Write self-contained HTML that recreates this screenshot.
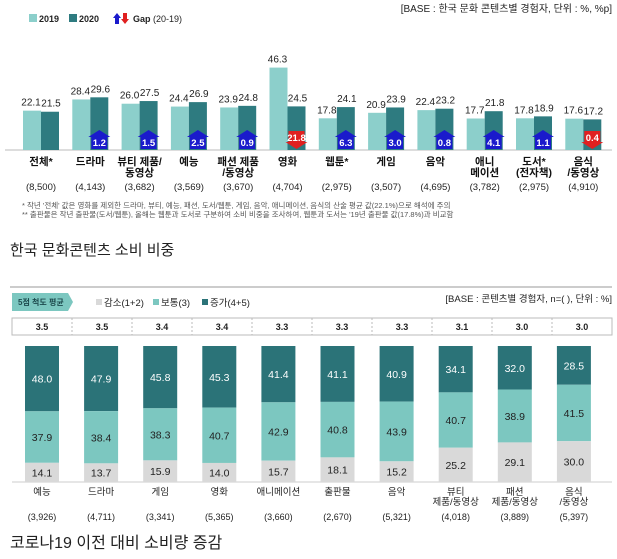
<!DOCTYPE html>
<html><head><meta charset="utf-8"><style>
html,body{margin:0;padding:0;background:#fff;}
svg{display:block;font-family:"Liberation Sans","Noto Sans CJK KR",sans-serif;}
</style></head><body>
<svg id="s" width="617" height="559" viewBox="0 0 617 559" xmlns="http://www.w3.org/2000/svg">
<rect x="29" y="14" width="8" height="8" fill="#8ccfcb"/>
<text x="39" y="22" font-size="9" font-weight="bold" fill="#222">2019</text>
<rect x="69" y="14" width="8" height="8" fill="#2e7b80"/>
<text x="79" y="22" font-size="9" font-weight="bold" fill="#222">2020</text>
<polygon points="113,18 117,13 121,18 119,18 119,24 115,24 115,18" fill="#1a1acc"/>
<polygon points="121,19 123,19 123,13 127,13 127,19 129,19 125,24" fill="#e02020"/>
<text x="133" y="22" font-size="9" fill="#222"><tspan font-weight="bold">Gap</tspan> (20-19)</text>
<text x="612" y="12" font-size="10" fill="#222" text-anchor="end">[BASE : 한국 문화 콘텐츠별 경험자, 단위 : %, %p]</text>
<line x1="5" y1="150" x2="612" y2="150" stroke="#bbb" stroke-width="1"/>
<g id="topg"></g>
<text x="22" y="208" font-size="7.5" fill="#555">* 작년 '전체' 값은 영화를 제외한 드라마, 뷰티, 예능, 패션, 도서/웹툰, 게임, 음악, 애니메이션, 음식의 산술 평균 값(22.1%)으로 해석에 주의</text>
<text x="22" y="217" font-size="7.5" fill="#555">** 출판물은 작년 출판물(도서/웹툰), 올해는 웹툰과 도서로 구분하여 소비 비중을 조사하여, 웹툰과 도서는 '19년 출판물 값(17.8%)과 비교함</text>
<text x="10" y="255" font-size="15" fill="#222">한국 문화콘텐츠 소비 비중</text>

<line x1="10" y1="287" x2="612" y2="287" stroke="#ccc" stroke-width="2"/>
<polygon points="12,293 68,293 73,302 68,311 12,311" fill="#7cc7c0"/>
<text x="18" y="305" font-size="8" font-weight="bold" fill="#1d4a4d">5점 척도 평균</text>
<rect x="96" y="299" width="6" height="6" fill="#d9d9d9"/>
<text x="104" y="306" font-size="9.5" fill="#222">감소(1+2)</text>
<rect x="153" y="299" width="6" height="6" fill="#7cc7c0"/>
<text x="161" y="306" font-size="9.5" fill="#222">보통(3)</text>
<rect x="202" y="299" width="6" height="6" fill="#2b7378"/>
<text x="210" y="306" font-size="9.5" fill="#222">증가(4+5)</text>
<text x="612" y="302" font-size="9.5" fill="#222" text-anchor="end">[BASE : 콘텐츠별 경험자, n=( ), 단위 : %]</text>
<rect x="12" y="318" width="600" height="17" fill="#fff" stroke="#bbb" stroke-width="1"/>
<line x1="12" y1="482" x2="612" y2="482" stroke="#ccc" stroke-width="1"/>
<g id="botg"></g>
<text x="10" y="548" font-size="16" fill="#222">코로나19 이전 대비 소비량 증감</text>
</svg>
<script>
(function(){
var NS="http://www.w3.org/2000/svg";
function el(p,t,a,txt){var e=document.createElementNS(NS,t);for(var k in a)e.setAttribute(k,a[k]);if(txt!=null)e.textContent=txt;p.appendChild(e);return e;}
var tg=document.getElementById('topg');
var d=[[22.1,21.5],[28.4,29.6],[26.0,27.5],[24.4,26.9],[23.9,24.8],[46.3,24.5],[17.8,24.1],[20.9,23.9],[22.4,23.2],[17.7,21.8],[17.8,18.9],[17.6,17.2]];
var g=[null,1.2,1.5,2.5,0.9,-21.8,6.3,3.0,0.8,4.1,1.1,-0.4];
var lab=[["전체*"],["드라마"],["뷰티 제품/","동영상"],["예능"],["패션 제품","/동영상"],["영화"],["웹툰*"],["게임"],["음악"],["애니","메이션"],["도서*","(전자책)"],["음식","/동영상"]];
var n=["(8,500)","(4,143)","(3,682)","(3,569)","(3,670)","(4,704)","(2,975)","(3,507)","(4,695)","(3,782)","(2,975)","(4,910)"];
var s=1.78;
for(var i=0;i<12;i++){
 var x=23+i*49.3;
 var h1=d[i][0]*s,h2=d[i][1]*s;
 el(tg,'rect',{x:x,y:150-h1,width:18,height:h1,fill:'#8ccfcb'});
 el(tg,'rect',{x:x+18,y:150-h2,width:18,height:h2,fill:'#2e7b80'});
 el(tg,'text',{x:x+8,y:150-h1-5,'font-size':10,'text-anchor':'middle',fill:'#222'},d[i][0].toFixed(1));
 el(tg,'text',{x:x+28,y:150-h2-5,'font-size':10,'text-anchor':'middle',fill:'#222'},d[i][1].toFixed(1));
 var cx=x+27;
 if(g[i]!=null){
  if(g[i]>0){
   el(tg,'polygon',{points:(cx-11)+',137 '+cx+',130 '+(cx+11)+',137 '+(cx+8)+',137 '+(cx+8)+',149 '+(cx-8)+',149 '+(cx-8)+',137',fill:'#1a1acc'});
  } else {
   el(tg,'polygon',{points:(cx-8)+',131 '+(cx+8)+',131 '+(cx+8)+',142 '+(cx+11)+',142 '+cx+',149 '+(cx-11)+',142 '+(cx-8)+',142',fill:'#e02020'});
  }
  el(tg,'text',{x:cx,y:g[i]>0?146:141,'font-size':9.5,'font-weight':'bold','text-anchor':'middle',fill:'#fff'},Math.abs(g[i]).toFixed(1));
 }
 var mx=x+18;
 for(var j=0;j<lab[i].length;j++)el(tg,'text',{x:mx,y:165+j*11,'font-size':10.5,'font-weight':'bold','text-anchor':'middle',fill:'#111'},lab[i][j]);
 el(tg,'text',{x:mx,y:190,'font-size':9.5,'text-anchor':'middle',fill:'#222'},n[i]);
}
var bg=document.getElementById('botg');
var sc=["3.5","3.5","3.4","3.4","3.3","3.3","3.3","3.1","3.0","3.0"];
var b=[[48.0,37.9,14.1],[47.9,38.4,13.7],[45.8,38.3,15.9],[45.3,40.7,14.0],[41.4,42.9,15.7],[41.1,40.8,18.1],[40.9,43.9,15.2],[34.1,40.7,25.2],[32.0,38.9,29.1],[28.5,41.5,30.0]];
var bl=[["예능"],["드라마"],["게임"],["영화"],["애니메이션"],["출판물"],["음악"],["뷰티","제품/동영상"],["패션","제품/동영상"],["음식","/동영상"]];
var bn=["(3,926)","(4,711)","(3,341)","(5,365)","(3,660)","(2,670)","(5,321)","(4,018)","(3,889)","(5,397)"];
for(var i=0;i<10;i++){
 var c=42+i*59.1;
 if(i>0)el(bg,'line',{x1:12+i*60,y1:318,x2:12+i*60,y2:335,stroke:'#bbb','stroke-dasharray':'2,2'});
 el(bg,'text',{x:42+i*60,y:330,'font-size':9,'font-weight':'bold','text-anchor':'middle',fill:'#222'},sc[i]);
 var tot=b[i][0]+b[i][1]+b[i][2],k=136/tot,y=346;
 var cols=['#2b7378','#7cc7c0','#d9d9d9'],tc=['#fff','#222','#222'];
 for(var j=0;j<3;j++){var h=b[i][j]*k;
  el(bg,'rect',{x:c-17,y:y,width:34,height:h,fill:cols[j]});
  el(bg,'text',{x:c,y:y+h/2+4,'font-size':10.5,'text-anchor':'middle',fill:tc[j]},b[i][j].toFixed(1));
  y+=h;}
 for(var j=0;j<bl[i].length;j++)el(bg,'text',{x:c,y:495+j*10,'font-size':9.5,'text-anchor':'middle',fill:'#222'},bl[i][j]);
 el(bg,'text',{x:c,y:520,'font-size':9,'text-anchor':'middle',fill:'#222'},bn[i]);
}
})();
</script>
</body></html>
